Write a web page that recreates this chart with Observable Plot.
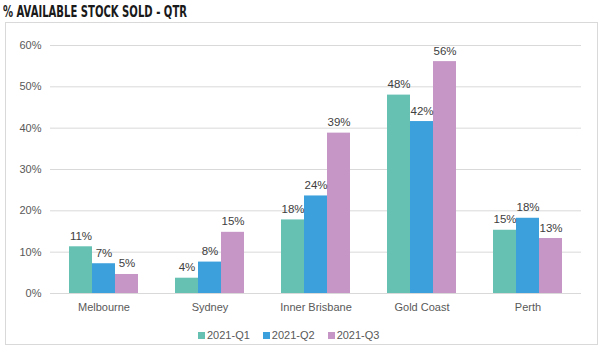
<!DOCTYPE html>
<html>
<head>
<meta charset="utf-8">
<script src="https://cdn.jsdelivr.net/npm/d3@7"></script>
<script src="https://cdn.jsdelivr.net/npm/@observablehq/plot@0.6"></script>
<style>
  html, body { margin: 0; padding: 0; background: #fff; }
  body { width: 605px; height: 353px; position: relative; overflow: hidden; font-family: "Liberation Sans", Arial, sans-serif; }
  #title { position: absolute; left: 3px; top: 3px; font-family: "DejaVu Sans Condensed", "DejaVu Sans", sans-serif; font-weight: bold; font-size: 16px; line-height: 18px; color: #1a1a1a; white-space: nowrap; transform-origin: 0 0; }
  #box { position: absolute; left: 5px; top: 22px; width: 593px; height: 323px; border: 1px solid #d9d9d9; box-sizing: border-box; }
  .layer { position: absolute; left: 0; top: 0; }
  #legend { position: absolute; left: 198px; top: 329px; display: flex; align-items: center; font-size: 11px; color: #595959; }
  #legend .item { display: flex; align-items: center; margin-right: 13px; }
  #legend .sw { width: 7px; height: 7px; margin-right: 2px; }
</style>
</head>
<body>
<div id="title">% AVAILABLE STOCK SOLD - QTR</div>
<div id="box"></div>
<div id="bg" class="layer"></div>
<div id="fg" class="layer"></div>
<div id="legend"></div>
<script>
const cities = ["Melbourne", "Sydney", "Inner Brisbane", "Gold Coast", "Perth"];
const quarters = ["2021-Q1", "2021-Q2", "2021-Q3"];
const q1 = [0.113, 0.037, 0.178, 0.480, 0.153];
const q2 = [0.072, 0.076, 0.236, 0.416, 0.182];
const q3 = [0.046, 0.148, 0.388, 0.561, 0.133];
const yTicks = [0, 0.1, 0.2, 0.3, 0.4, 0.5, 0.6];
const colors = ["#66c1b3", "#3ba0dc", "#c596c6"];

const series = [q1, q2, q3];
const data = [];
cities.forEach((c, i) => quarters.forEach((q, j) => data.push({city: c, quarter: q, value: series[j][i]})));

// fit condensed title width
const title = document.getElementById("title");
const tw = title.getBoundingClientRect().width;
title.style.transform = `scaleX(${184 / tw})`;

const common = {
  width: 605, height: 320,
  marginLeft: 50, marginRight: 24, marginTop: 45, marginBottom: 27,
  style: {fontFamily: "'Liberation Sans', Arial, sans-serif", fontSize: "11px", color: "#595959", background: "transparent"}
};

const bg = Plot.plot({
  ...common,
  x: {axis: null},
  y: {domain: [0, 0.6], axis: null},
  marks: [
    Plot.gridY(yTicks, {stroke: "#d9d9d9", strokeOpacity: 1, strokeWidth: 1}),
    Plot.axisY(yTicks, {tickFormat: d3.format(".0%"), tickSize: 0, tickPadding: 9, label: null, fill: "#595959"})
  ]
});
document.getElementById("bg").appendChild(bg);

const fg = Plot.plot({
  ...common,
  fx: {domain: cities, paddingInner: 0.334, paddingOuter: 0.167, label: null, axis: "bottom", tickSize: 0, tickPadding: 10},
  x: {domain: quarters, axis: null, padding: 0},
  y: {domain: [0, 0.6], axis: null},
  color: {domain: quarters, range: colors},
  marks: [
    Plot.barY(data, {fx: "city", x: "quarter", y: "value", fill: "quarter", inset: 0}),
    Plot.text(data, {fx: "city", x: "quarter", y: "value", text: d => Math.round(d.value * 100) + "%", lineAnchor: "bottom", dy: -7, fill: "#404040", fontSize: 11.5})
  ]
});
document.getElementById("fg").appendChild(fg);

const legend = document.getElementById("legend");
quarters.forEach((q, j) => {
  const it = document.createElement("div");
  it.className = "item";
  const sw = document.createElement("div");
  sw.className = "sw";
  sw.style.background = colors[j];
  const t = document.createElement("span");
  t.textContent = q;
  it.appendChild(sw); it.appendChild(t);
  legend.appendChild(it);
});
</script>
</body>
</html>
